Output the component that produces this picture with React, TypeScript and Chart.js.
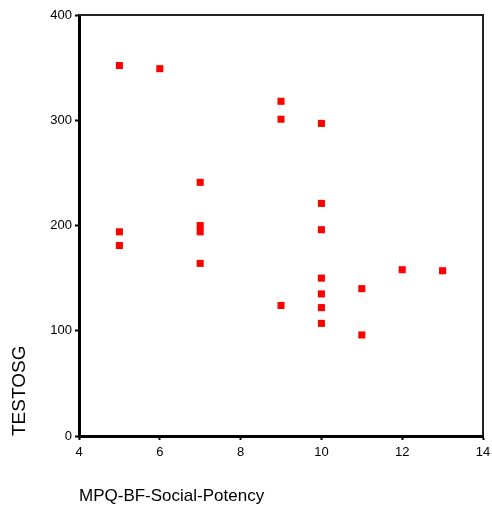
import React, { useEffect, useRef } from "react";
import { Chart, registerables } from "chart.js";

Chart.register(...registerables);

const socialPotency = [5, 6, 7, 5, 5, 7, 7, 7, 9, 9, 10, 10, 10, 12, 13, 10, 11, 10, 9, 10, 10, 11];
const testosg = [352, 349, 241, 194, 181, 200, 194, 164, 318, 301, 297, 221, 196, 158, 157, 150, 140, 135, 124, 122, 107, 96];
const xTitle = "MPQ-BF-Social-Potency";
const yTitle = "TESTOSG";

const framePlugin = {
  id: "frame",
  afterDraw(chart: any) {
    const { ctx, chartArea } = chart;
    ctx.save();
    ctx.strokeStyle = "#222";
    ctx.lineWidth = 2;
    ctx.beginPath();
    ctx.moveTo(chartArea.left, chartArea.top);
    ctx.lineTo(chartArea.right, chartArea.top);
    ctx.lineTo(chartArea.right, chartArea.bottom);
    ctx.stroke();
    ctx.restore();
  },
};

export default function App() {
  const ref = useRef<HTMLCanvasElement>(null);
  useEffect(() => {
    document.body.style.margin = "0";
    const points = socialPotency.map((x, i) => ({ x, y: testosg[i] }));
    const chart = new Chart(ref.current!, {
      type: "scatter",
      data: {
        datasets: [
          {
            data: points,
            pointStyle: "rect",
            pointRadius: 5,
            pointBorderWidth: 0,
            backgroundColor: "#ff0000",
            borderColor: "#ff0000",
          },
        ],
      },
      options: {
        animation: false,
        responsive: false,
        plugins: { legend: { display: false }, tooltip: { enabled: false } },
        layout: { padding: { top: 15, right: 9, left: 0, bottom: 0 } },
        scales: {
          x: {
            type: "linear",
            min: 4,
            max: 14,
            ticks: {
              stepSize: 2,
              color: "#000",
              font: { family: "Liberation Sans, Arial", size: 13 },
              padding: 5,
            },
            grid: { drawOnChartArea: false, tickLength: 4, tickColor: "#000", tickWidth: 2 },
            border: { color: "#000", width: 3 },
            title: {
              display: true,
              text: xTitle,
              align: "start",
              color: "#000",
              font: { family: "Liberation Sans, Arial", size: 17 },
              padding: { top: 0, bottom: 3 },
            },
            afterFit(scale: any) {
              scale.height = 74;
              scale.paddingLeft = 0;
              scale.paddingRight = 0;
            },
          },
          y: {
            type: "linear",
            min: 0,
            max: 400,
            ticks: {
              stepSize: 100,
              color: "#000",
              font: { family: "Liberation Sans, Arial", size: 13 },
              padding: 3,
            },
            grid: { drawOnChartArea: false, tickLength: 4, tickColor: "#000", tickWidth: 2 },
            border: { color: "#000", width: 3 },
            title: {
              display: true,
              text: yTitle,
              align: "start",
              color: "#000",
              font: { family: "Liberation Sans, Arial", size: 19 },
              padding: { top: 8, bottom: 0 },
            },
            afterFit(scale: any) {
              scale.width = 79;
              scale.paddingTop = 0;
              scale.paddingBottom = 0;
            },
          },
        },
      },
      plugins: [framePlugin],
    });
    return () => chart.destroy();
  }, []);
  return <canvas ref={ref} width={492} height={510} style={{ display: "block" }} />;
}
